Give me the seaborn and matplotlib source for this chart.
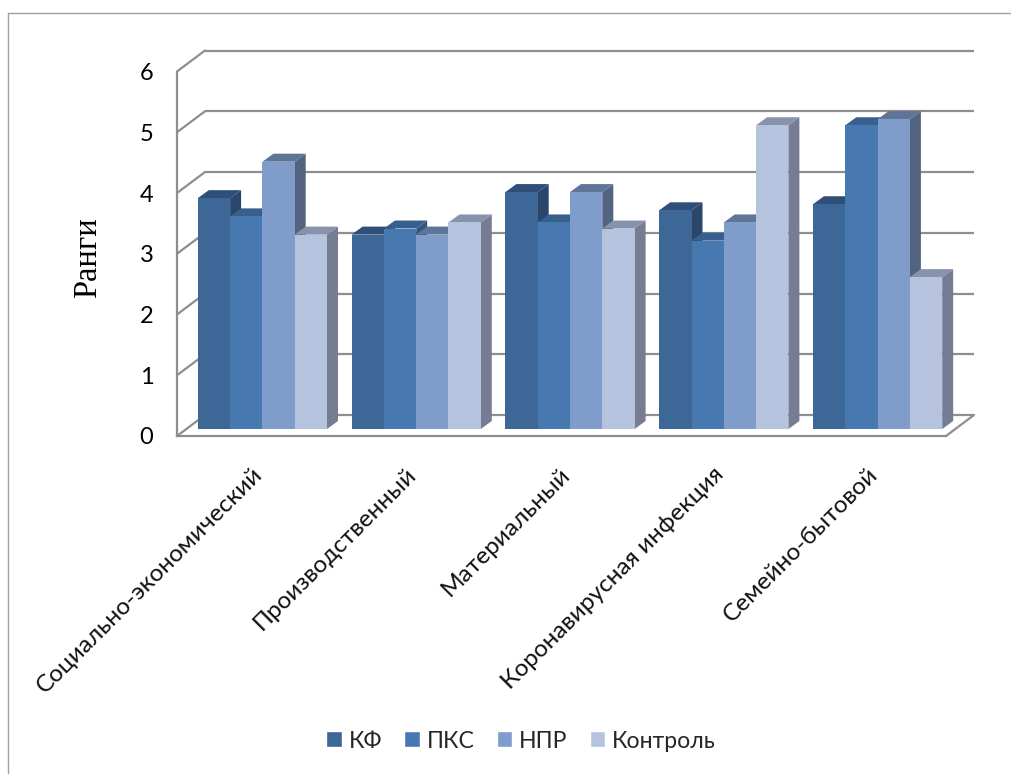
import pandas as pd
import matplotlib
matplotlib.use('Agg')
import matplotlib.pyplot as plt
from matplotlib.lines import Line2D
from matplotlib.patches import Polygon
from matplotlib.transforms import Affine2D
import seaborn as sns

sns.set_theme(style="white")
plt.rcParams['font.family'] = ['Lato', 'DejaVu Sans']

categories = ['Социально-экономический', 'Производственный', 'Материальный',
              'Коронавирусная инфекция', 'Семейно-бытовой']
groups = ['КФ', 'ПКС', 'НПР', 'Контроль']
kf = [3.8, 3.2, 3.9, 3.6, 3.7]
pks = [3.5, 3.3, 3.4, 3.1, 5.0]
npr = [4.4, 3.2, 3.9, 3.4, 5.1]
control = [3.2, 3.4, 3.3, 5.0, 2.5]
levels = [0, 1, 2, 3, 4, 5, 6]

front_colors = ['#3D6796', '#4878B0', '#809CCB', '#B5C3DE']
top_colors = ['#2F4F78', '#38608F', '#5F7598', '#8793AB']
side_colors = ['#2B466B', '#34567F', '#52647F', '#767C92']
grid_color = '#8E8E8E'

W, H = 1011, 774
DEPTH_X, DEPTH_Y = 11, 8      # bar depth in px
WALL_X, WALL_Y = 28, 21       # chart depth in px

df = pd.DataFrame({'category': categories * 4,
                   'group': [g for g in groups for _ in categories],
                   'value': kf + pks + npr + control})

fig = plt.figure(figsize=(W / 100, H / 100), dpi=100)

# front plane: axis lines and tick labels
ax_front = fig.add_axes([177 / W, (H - 436) / H, 769 / W, 364.5 / H])
# bar plane sits a bit inside the chart
ax = fig.add_axes([185.5 / W, (H - 429) / H, 769 / W, 364.5 / H], zorder=3)
ax.patch.set_alpha(0)

sns.barplot(data=df, x='category', y='value', hue='group', order=categories,
            hue_order=groups, palette=front_colors, width=0.84, gap=0,
            saturation=1, errorbar=None, ax=ax)
ax.set_xlim(-0.5, 4.5)
ax.set_ylim(0, 6)
ax.set_xticks([])
ax.set_yticks([])
ax.set_xlabel('')
ax.set_ylabel('')
for s in ax.spines.values():
    s.set_visible(False)

# depth of each bar, worked out from the bar rectangles
for i, container in enumerate(ax.containers):
    for rect in container:
        x0, y0 = ax.transData.transform((rect.get_x(), 0))
        x1, y1 = ax.transData.transform((rect.get_x() + rect.get_width(), rect.get_height()))
        z = 2 + rect.get_x() * 10
        rect.set_zorder(z + 0.2)
        rect.set_linewidth(0)
        ax.add_patch(Polygon([(x1, y0), (x1 + DEPTH_X, y0 + DEPTH_Y), (x1 + DEPTH_X, y1 + DEPTH_Y), (x1, y1)],
                             closed=True, fc=side_colors[i], ec='none', transform=None, zorder=z, clip_on=False))
        ax.add_patch(Polygon([(x0, y1), (x0 + DEPTH_X, y1 + DEPTH_Y), (x1 + DEPTH_X, y1 + DEPTH_Y), (x1, y1)],
                             closed=True, fc=top_colors[i], ec='none', transform=None, zorder=z + 0.1, clip_on=False))

# walls
ax_front.set_xlim(-0.5, 4.5)
ax_front.set_ylim(0, 6)
ax_front.set_xticks(range(len(categories)))
ax_front.set_xticklabels([])
ax_front.set_yticks(levels)
ax_front.tick_params(axis='y', length=0, pad=17, labelsize=17, labelcolor='black')
ax_front.tick_params(axis='x', length=0)
for name, s in ax_front.spines.items():
    s.set_visible(name in ('left', 'bottom'))
    s.set_color(grid_color)
    s.set_linewidth(1.6)

back = ax_front.transData + Affine2D().translate(WALL_X, WALL_Y)
ax_front.hlines(levels, -0.5, 4.5, color=grid_color, lw=1.6, transform=back, clip_on=False)
for v in levels:
    px, py = ax_front.transData.transform((-0.5, v))
    ax_front.add_line(Line2D([px, px + WALL_X], [py, py + WALL_Y], color=grid_color, lw=1.6,
                             transform=None, clip_on=False))
px, py = ax_front.transData.transform((4.5, 0))
ax_front.add_line(Line2D([px, px + WALL_X], [py, py + WALL_Y], color=grid_color, lw=1.6,
                         transform=None, clip_on=False))

# category labels
for i, name in enumerate(categories):
    px, py = ax_front.transData.transform((i, 0))
    fig.text((px + 5) / W, (py - 35) / H, name, rotation=45, ha='right', va='center',
             rotation_mode='anchor', fontsize=17.6, color='#111111')

fig.text(88 / W, (H - 258) / H, 'Ранги', rotation=90, ha='center', va='center',
         family='Liberation Serif', fontsize=23.5, color='black')

# legend
handles, labels = ax.get_legend_handles_labels()
if ax.get_legend() is not None:
    ax.get_legend().remove()
fig.legend(handles, labels, loc='center', bbox_to_anchor=(521 / W, (H - 741) / H), ncol=4,
           frameon=False, fontsize=16.6, handlelength=0.68, handleheight=0.68,
           handletextpad=0.3, columnspacing=0.95, borderpad=0)

# outer frame of the pasted chart
frame = dict(color='#A0A0A0', lw=1, transform=fig.transFigure)
fig.add_artist(Line2D([8 / W, 8 / W], [0, (H - 13) / H], **frame))
fig.add_artist(Line2D([8 / W, 1], [(H - 13) / H, (H - 13) / H], **frame))

fig.savefig('out.png', dpi=100)
